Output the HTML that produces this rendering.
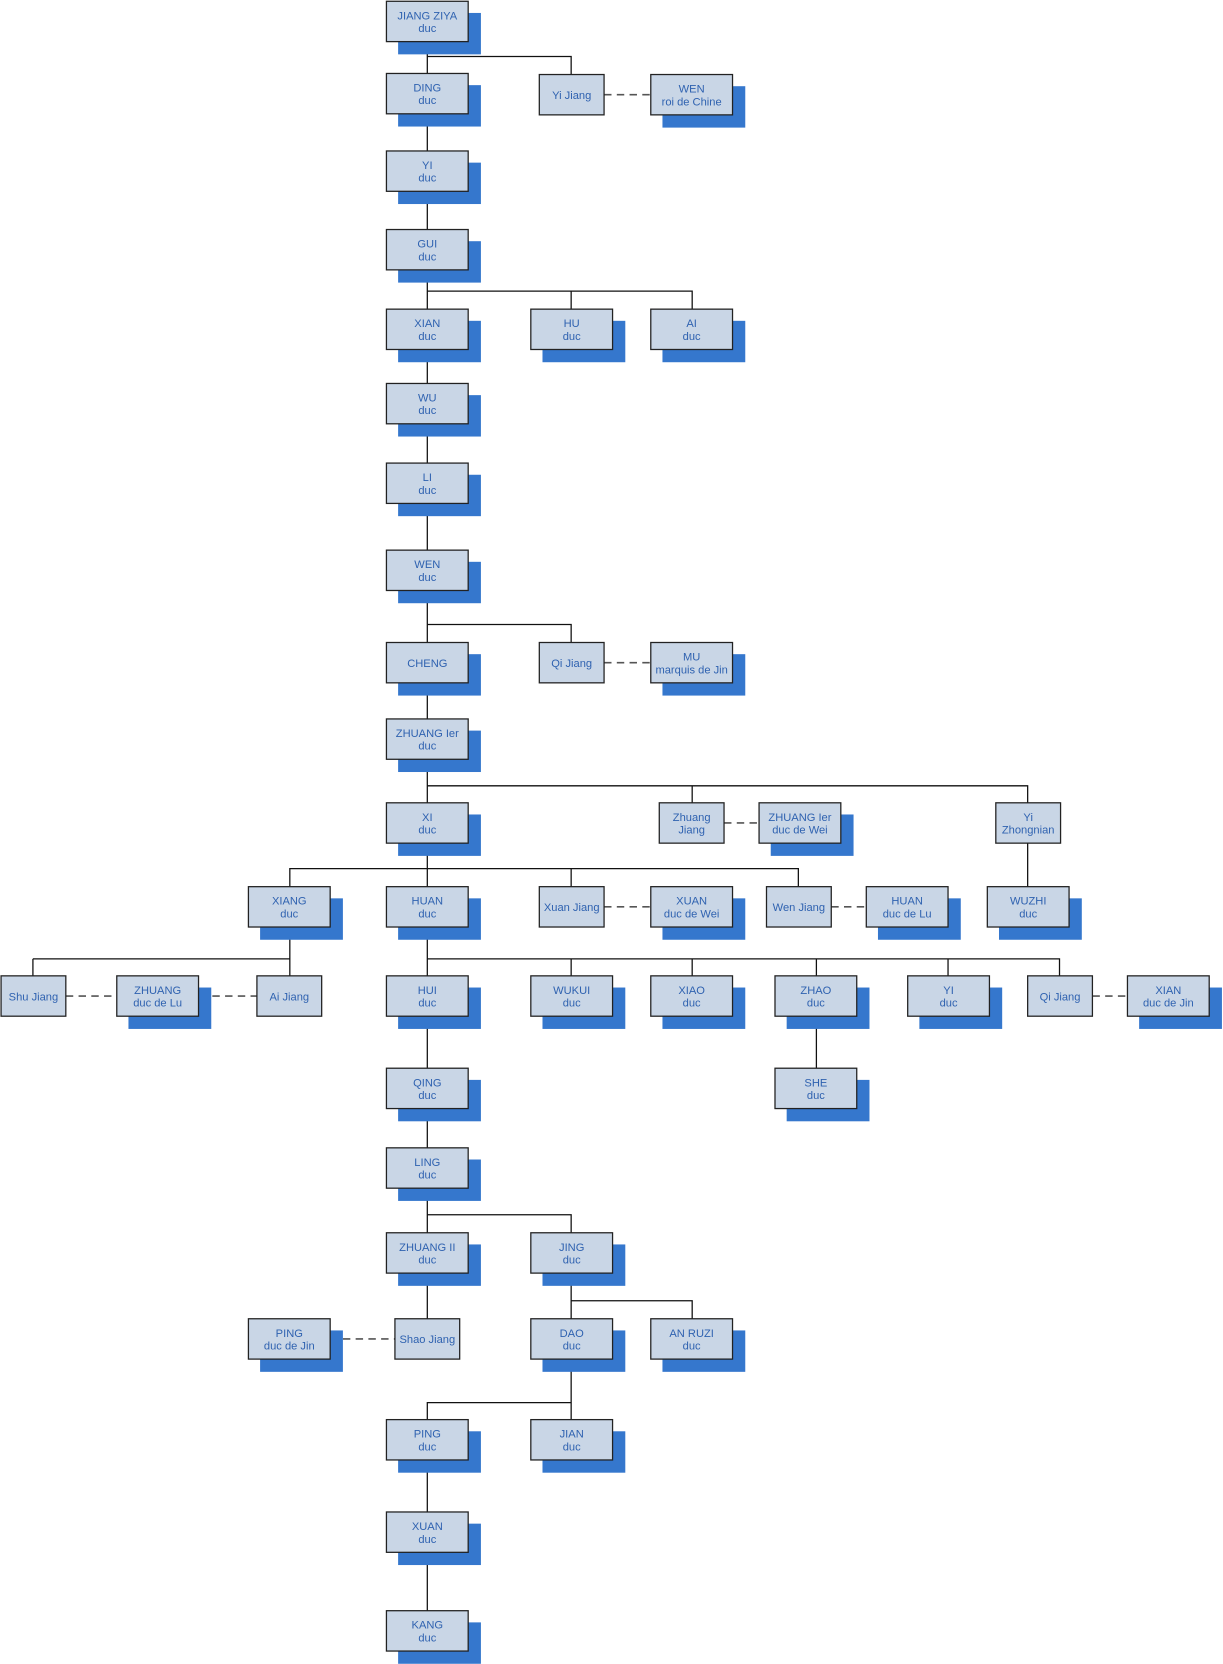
<!DOCTYPE html>
<html><head><meta charset="utf-8"><style>html,body{margin:0;padding:0;background:#fff}svg{display:block}
.s{fill:#3577cd}.b{fill:#c9d6e6;stroke:#222;stroke-width:1.2}
text{font-family:"Liberation Sans",sans-serif;font-size:10.5px;fill:#2f62b0;text-anchor:middle}</style></head>
<body>
<svg width="1223" height="1664" viewBox="0 0 1152 1567" xmlns="http://www.w3.org/2000/svg">
<g stroke="#111" stroke-width="1.2" fill="none">
<path d="M402.5 40V1199M402.5 53H538V70M402.5 274H652V291M538 274V291M402.5 588H538V605M402.5 740H968V756M652 740V756M968 794V835M402.5 818H273V835M402.5 818H752V835M538 818V835M273 873V903M31 903H273V919M31 903V919M402.5 873V903H998V919M538 903V919M652 903V919M769 903V919M893 903V919M769 957V1006M402.5 1144H538V1161M538 1199V1242M538 1225H652V1242M538 1280V1321H402.5V1337M538 1321V1337M402.5 1376V1424M402.5 1462V1517M402.5 1199V1242"/>
</g>
<g stroke="#555" stroke-width="1.5" stroke-dasharray="7,5" fill="none">
<path d="M569 89H613M569 624H613M682 775H715M569 854H613M783 854H816M62 938H110M188 938H242M1029 938H1062M311 1261H372"/>
</g>

<rect class="s" x="375" y="12" width="78" height="39"/><rect class="b" x="364" y="1" width="77" height="38"/><text x="402.5" y="18">JIANG ZIYA</text><text x="402.5" y="30">duc</text>
<rect class="s" x="375" y="80" width="78" height="39"/><rect class="b" x="364" y="69" width="77" height="38"/><text x="402.5" y="86">DING</text><text x="402.5" y="98">duc</text>
<rect class="b" x="508" y="70" width="61" height="38"/><text x="538.5" y="93">Yi Jiang</text>
<rect class="s" x="624" y="81" width="78" height="39"/><rect class="b" x="613" y="70" width="77" height="38"/><text x="651.5" y="87">WEN</text><text x="651.5" y="99">roi de Chine</text>
<rect class="s" x="375" y="153" width="78" height="39"/><rect class="b" x="364" y="142" width="77" height="38"/><text x="402.5" y="159">YI</text><text x="402.5" y="171">duc</text>
<rect class="s" x="375" y="227" width="78" height="39"/><rect class="b" x="364" y="216" width="77" height="38"/><text x="402.5" y="233">GUI</text><text x="402.5" y="245">duc</text>
<rect class="s" x="375" y="302" width="78" height="39"/><rect class="b" x="364" y="291" width="77" height="38"/><text x="402.5" y="308">XIAN</text><text x="402.5" y="320">duc</text>
<rect class="s" x="511" y="302" width="78" height="39"/><rect class="b" x="500" y="291" width="77" height="38"/><text x="538.5" y="308">HU</text><text x="538.5" y="320">duc</text>
<rect class="s" x="624" y="302" width="78" height="39"/><rect class="b" x="613" y="291" width="77" height="38"/><text x="651.5" y="308">AI</text><text x="651.5" y="320">duc</text>
<rect class="s" x="375" y="372" width="78" height="39"/><rect class="b" x="364" y="361" width="77" height="38"/><text x="402.5" y="378">WU</text><text x="402.5" y="390">duc</text>
<rect class="s" x="375" y="447" width="78" height="39"/><rect class="b" x="364" y="436" width="77" height="38"/><text x="402.5" y="453">LI</text><text x="402.5" y="465">duc</text>
<rect class="s" x="375" y="529" width="78" height="39"/><rect class="b" x="364" y="518" width="77" height="38"/><text x="402.5" y="535">WEN</text><text x="402.5" y="547">duc</text>
<rect class="s" x="375" y="616" width="78" height="39"/><rect class="b" x="364" y="605" width="77" height="38"/><text x="402.5" y="628">CHENG</text>
<rect class="b" x="508" y="605" width="61" height="38"/><text x="538.5" y="628">Qi Jiang</text>
<rect class="s" x="624" y="616" width="78" height="39"/><rect class="b" x="613" y="605" width="77" height="38"/><text x="651.5" y="622">MU</text><text x="651.5" y="634">marquis de Jin</text>
<rect class="s" x="375" y="688" width="78" height="39"/><rect class="b" x="364" y="677" width="77" height="38"/><text x="402.5" y="694">ZHUANG Ier</text><text x="402.5" y="706">duc</text>
<rect class="s" x="375" y="767" width="78" height="39"/><rect class="b" x="364" y="756" width="77" height="38"/><text x="402.5" y="773">XI</text><text x="402.5" y="785">duc</text>
<rect class="b" x="621" y="756" width="61" height="38"/><text x="651.5" y="773">Zhuang</text><text x="651.5" y="785">Jiang</text>
<rect class="s" x="726" y="767" width="78" height="39"/><rect class="b" x="715" y="756" width="77" height="38"/><text x="753.5" y="773">ZHUANG Ier</text><text x="753.5" y="785">duc de Wei</text>
<rect class="b" x="938" y="756" width="61" height="38"/><text x="968.5" y="773">Yi</text><text x="968.5" y="785">Zhongnian</text>
<rect class="s" x="245" y="846" width="78" height="39"/><rect class="b" x="234" y="835" width="77" height="38"/><text x="272.5" y="852">XIANG</text><text x="272.5" y="864">duc</text>
<rect class="s" x="375" y="846" width="78" height="39"/><rect class="b" x="364" y="835" width="77" height="38"/><text x="402.5" y="852">HUAN</text><text x="402.5" y="864">duc</text>
<rect class="b" x="508" y="835" width="61" height="38"/><text x="538.5" y="858">Xuan Jiang</text>
<rect class="s" x="624" y="846" width="78" height="39"/><rect class="b" x="613" y="835" width="77" height="38"/><text x="651.5" y="852">XUAN</text><text x="651.5" y="864">duc de Wei</text>
<rect class="b" x="722" y="835" width="61" height="38"/><text x="752.5" y="858">Wen Jiang</text>
<rect class="s" x="827" y="846" width="78" height="39"/><rect class="b" x="816" y="835" width="77" height="38"/><text x="854.5" y="852">HUAN</text><text x="854.5" y="864">duc de Lu</text>
<rect class="s" x="941" y="846" width="78" height="39"/><rect class="b" x="930" y="835" width="77" height="38"/><text x="968.5" y="852">WUZHI</text><text x="968.5" y="864">duc</text>
<rect class="b" x="1" y="919" width="61" height="38"/><text x="31.5" y="942">Shu Jiang</text>
<rect class="s" x="121" y="930" width="78" height="39"/><rect class="b" x="110" y="919" width="77" height="38"/><text x="148.5" y="936">ZHUANG</text><text x="148.5" y="948">duc de Lu</text>
<rect class="b" x="242" y="919" width="61" height="38"/><text x="272.5" y="942">Ai Jiang</text>
<rect class="s" x="375" y="930" width="78" height="39"/><rect class="b" x="364" y="919" width="77" height="38"/><text x="402.5" y="936">HUI</text><text x="402.5" y="948">duc</text>
<rect class="s" x="511" y="930" width="78" height="39"/><rect class="b" x="500" y="919" width="77" height="38"/><text x="538.5" y="936">WUKUI</text><text x="538.5" y="948">duc</text>
<rect class="s" x="624" y="930" width="78" height="39"/><rect class="b" x="613" y="919" width="77" height="38"/><text x="651.5" y="936">XIAO</text><text x="651.5" y="948">duc</text>
<rect class="s" x="741" y="930" width="78" height="39"/><rect class="b" x="730" y="919" width="77" height="38"/><text x="768.5" y="936">ZHAO</text><text x="768.5" y="948">duc</text>
<rect class="s" x="866" y="930" width="78" height="39"/><rect class="b" x="855" y="919" width="77" height="38"/><text x="893.5" y="936">YI</text><text x="893.5" y="948">duc</text>
<rect class="b" x="968" y="919" width="61" height="38"/><text x="998.5" y="942">Qi Jiang</text>
<rect class="s" x="1073" y="930" width="78" height="39"/><rect class="b" x="1062" y="919" width="77" height="38"/><text x="1100.5" y="936">XIAN</text><text x="1100.5" y="948">duc de Jin</text>
<rect class="s" x="375" y="1017" width="78" height="39"/><rect class="b" x="364" y="1006" width="77" height="38"/><text x="402.5" y="1023">QING</text><text x="402.5" y="1035">duc</text>
<rect class="s" x="741" y="1017" width="78" height="39"/><rect class="b" x="730" y="1006" width="77" height="38"/><text x="768.5" y="1023">SHE</text><text x="768.5" y="1035">duc</text>
<rect class="s" x="375" y="1092" width="78" height="39"/><rect class="b" x="364" y="1081" width="77" height="38"/><text x="402.5" y="1098">LING</text><text x="402.5" y="1110">duc</text>
<rect class="s" x="375" y="1172" width="78" height="39"/><rect class="b" x="364" y="1161" width="77" height="38"/><text x="402.5" y="1178">ZHUANG II</text><text x="402.5" y="1190">duc</text>
<rect class="s" x="511" y="1172" width="78" height="39"/><rect class="b" x="500" y="1161" width="77" height="38"/><text x="538.5" y="1178">JING</text><text x="538.5" y="1190">duc</text>
<rect class="s" x="245" y="1253" width="78" height="39"/><rect class="b" x="234" y="1242" width="77" height="38"/><text x="272.5" y="1259">PING</text><text x="272.5" y="1271">duc de Jin</text>
<rect class="b" x="372" y="1242" width="61" height="38"/><text x="402.5" y="1265">Shao Jiang</text>
<rect class="s" x="511" y="1253" width="78" height="39"/><rect class="b" x="500" y="1242" width="77" height="38"/><text x="538.5" y="1259">DAO</text><text x="538.5" y="1271">duc</text>
<rect class="s" x="624" y="1253" width="78" height="39"/><rect class="b" x="613" y="1242" width="77" height="38"/><text x="651.5" y="1259">AN RUZI</text><text x="651.5" y="1271">duc</text>
<rect class="s" x="375" y="1348" width="78" height="39"/><rect class="b" x="364" y="1337" width="77" height="38"/><text x="402.5" y="1354">PING</text><text x="402.5" y="1366">duc</text>
<rect class="s" x="511" y="1348" width="78" height="39"/><rect class="b" x="500" y="1337" width="77" height="38"/><text x="538.5" y="1354">JIAN</text><text x="538.5" y="1366">duc</text>
<rect class="s" x="375" y="1435" width="78" height="39"/><rect class="b" x="364" y="1424" width="77" height="38"/><text x="402.5" y="1441">XUAN</text><text x="402.5" y="1453">duc</text>
<rect class="s" x="375" y="1528" width="78" height="39"/><rect class="b" x="364" y="1517" width="77" height="38"/><text x="402.5" y="1534">KANG</text><text x="402.5" y="1546">duc</text>
</svg>
</body></html>
